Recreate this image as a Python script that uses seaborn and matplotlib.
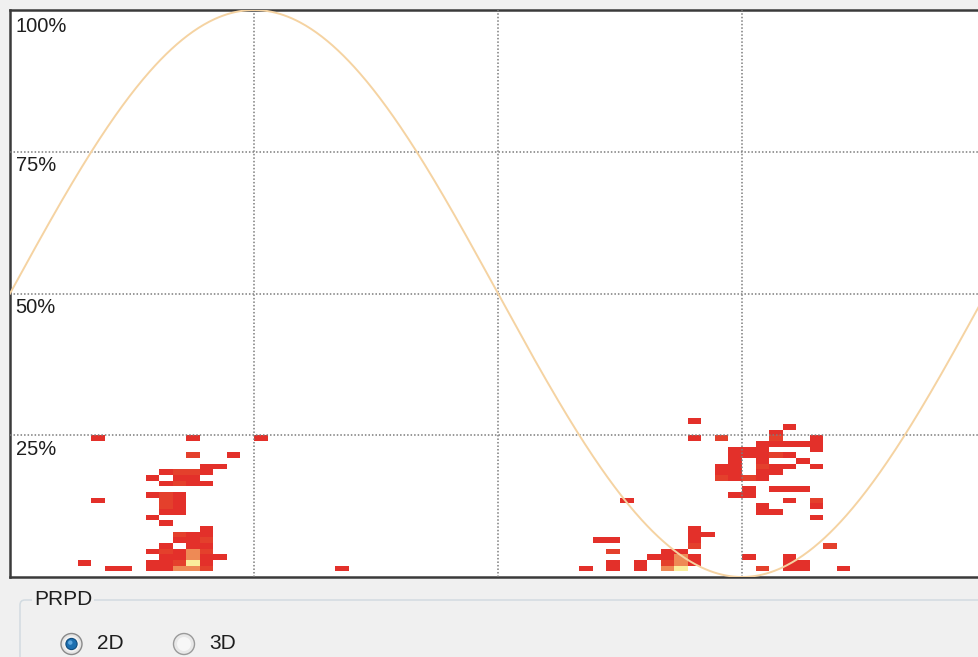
import numpy as np
import pandas as pd
import matplotlib
matplotlib.use("Agg")
import matplotlib.pyplot as plt
import seaborn as sns
from matplotlib.colors import ListedColormap
from matplotlib.patches import Circle, FancyBboxPatch

# ---------------- data (phase bin start in degrees, amplitude bin in %, pulse count) ----------------
phase_deg = [
    30, 65, 90,
    65, 80,
    70, 75,
    55, 60, 65, 70,
    50, 60, 65,
    55, 60, 65, 70,
    50, 55, 60,
    30, 55, 60,
    55, 60,
    55, 60,
    50,
    55,
    70,
    60, 65, 70,
    60, 65, 70,
    55, 65, 70,
    50, 55, 60, 65, 70,
    55, 60, 65, 70, 75,
    25, 50, 55, 60, 65, 70,
    35, 40, 50, 55, 60, 65, 70,
    120,
    # second half-cycle
    225,
    215, 220,
    220,
    210, 220, 220,
    230, 230,
    235,
    240, 240, 240, 240,
    245, 245, 245, 245,
    250, 250, 250, 250, 250, 250,
    255,
    250, 250, 260,
    280, 280, 285,
    295, 295, 295,
    275, 280, 285, 290,
    265, 270, 275,
    265, 270, 275, 280, 285,
    265, 275, 290,
    260, 265, 275, 280, 285, 295,
    260, 265, 275, 280,
    260, 265, 270, 275,
    270, 280, 285, 290,
    265, 270,
    285, 295,
    275, 295,
    275, 280,
    295,
    300,
    270, 285,
    285, 290, 285, 290,
    275, 305,
]
amplitude_pct = [
    24, 24, 24,
    21, 21,
    19, 19,
    18, 18, 18, 18,
    17, 17, 17,
    16, 16, 16, 16,
    14, 14, 14,
    13, 13, 13,
    12, 12,
    11, 11,
    10,
    9,
    8,
    7, 7, 7,
    6, 6, 6,
    5, 5, 5,
    4, 4, 4, 4, 4,
    3, 3, 3, 3, 3,
    2, 2, 2, 2, 2, 2,
    1, 1, 1, 1, 1, 1, 1,
    1,
    # second half-cycle
    13,
    6, 6,
    4,
    1, 1, 2,
    1, 2,
    3,
    1, 2, 3, 4,
    1, 2, 3, 4,
    2, 3, 5, 6, 7, 8,
    7,
    27, 24, 24,
    25, 24, 26,
    24, 23, 22,
    23, 23, 23, 23,
    22, 22, 22,
    21, 21, 21, 21, 21,
    20, 20, 20,
    19, 19, 19, 19, 19, 19,
    18, 18, 18, 18,
    17, 17, 17, 17,
    15, 15, 15, 15,
    14, 14,
    13, 13,
    12, 12,
    11, 11,
    10,
    5,
    3, 3,
    2, 2, 1, 1,
    1, 1,
]
pulse_count = [
    1, 1, 1,
    2, 1,
    1, 1,
    1, 2, 2, 1,
    1, 1, 1,
    1, 2, 1, 1,
    1, 2, 1,
    1, 2, 1,
    2, 1,
    1, 1,
    1,
    1,
    1,
    2, 1, 1,
    1, 1, 2,
    1, 1, 1,
    1, 2, 1, 3, 2,
    1, 1, 3, 1, 1,
    1, 1, 1, 2, 5, 1,
    1, 1, 1, 1, 3, 3, 2,
    1,
    # second half-cycle
    1,
    1, 1,
    2,
    1, 1, 1,
    1, 1,
    1,
    3, 2, 1, 1,
    5, 3, 3, 1,
    1, 1, 2, 1, 1, 1,
    1,
    1, 1, 2,
    1, 2, 1,
    1, 1, 1,
    1, 1, 1, 1,
    1, 1, 1,
    1, 1, 1, 2, 1,
    1, 1, 1,
    1, 1, 2, 1, 1, 1,
    1, 1, 1, 1,
    2, 1, 2, 1,
    1, 1, 1, 1,
    1, 1,
    1, 2,
    1, 1,
    1, 1,
    1,
    2,
    1, 1,
    1, 1, 1, 1,
    2, 1,
]
y_levels = [100, 75, 50, 25]
y_labels = ["100%", "75%", "50%", "25%"]
phase_bin_deg = 5
n_phase_bins = 72
n_amp_bins = 100

# ---------------- build grid ----------------
grid = pd.DataFrame(np.nan, index=range(n_amp_bins), columns=range(n_phase_bins))
for p, a, c in zip(phase_deg, amplitude_pct, pulse_count):
    grid.loc[a, p // phase_bin_deg] = c

plt.rcParams["font.family"] = ["Liberation Sans", "DejaVu Sans"]

W, H = 979, 657
fig = plt.figure(figsize=(W / 100, H / 100), dpi=100, facecolor="#F0F0F0")
ax = fig.add_axes([10 / W, (H - 577) / H, 976 / W, 567 / H])
ax.set_facecolor("white")

cmap = ListedColormap(["#E3302A", "#E4402C", "#EE8A55", "#F4BE74", "#FAEE9C"])
sns.heatmap(grid, ax=ax, cmap=cmap, vmin=0.5, vmax=5.5, cbar=False,
            xticklabels=False, yticklabels=False, linewidths=0)
ax.set_xlim(0, n_phase_bins)
ax.set_ylim(0, n_amp_bins)
ax.tick_params(length=0)
ax.set_xlabel("")
ax.set_ylabel("")

# grid lines (dotted)
for gx in [90, 180, 270]:
    ax.axvline(gx / phase_bin_deg, color="#7C7C7C", lw=1.1, ls=(0, (1, 1.3)), zorder=3)
for gy in [25, 50, 75]:
    ax.axhline(gy, color="#7C7C7C", lw=1.1, ls=(0, (1, 1.3)), zorder=3)

# reference sine
phase = np.linspace(0, 360, 721)
wave = 50 + 50 * np.sin(np.deg2rad(phase))
sns.lineplot(x=phase / phase_bin_deg, y=wave, ax=ax, color="#F5D3A2", lw=1.4, zorder=4)

# level labels inside plot
for lvl, lab in zip(y_levels, y_labels):
    off = 1.2 if lvl == 100 else 0.8
    ax.text(0.42, lvl - off, lab, ha="left", va="top", fontsize=14.5, color="#1E1E1E", zorder=5)

for s in ["left", "top", "bottom", "right"]:
    ax.spines[s].set_visible(True)
    ax.spines[s].set_color("#3A3A3A")
    ax.spines[s].set_linewidth(1.8)

# ---------------- bottom UI panel ----------------
ui = fig.add_axes([0, 0, 1, (H - 580) / H])
ui.set_xlim(0, W)
ui.set_ylim(H, 580)
ui.axis("off")
ui.patch.set_alpha(0)

box = FancyBboxPatch((20, 600), 1000, 120, boxstyle="round,pad=0,rounding_size=5",
                     ec="#D2DBE1", fc="none", lw=1.1)
ui.add_patch(box)
ui.text(34, 600, "PRPD", ha="left", va="center", fontsize=15, color="#1E1E1E",
        bbox=dict(fc="#F0F0F0", ec="none", pad=1.5))

# radio 2D (selected)
ui.add_patch(Circle((71.5, 644), 10.5, fc="#E4E4E4", ec="#8A8A8A", lw=1.0))
ui.add_patch(Circle((71.5, 644), 8.0, fc="#F2F2F2", ec="none"))
ui.add_patch(Circle((71.5, 644), 5.6, fc="#1C6FB0", ec="#0E4C7E", lw=0.8))
ui.add_patch(Circle((70.3, 642.6), 2.2, fc="#5FA9E0", ec="none"))
ui.text(97, 644, "2D", ha="left", va="center", fontsize=15, color="#1E1E1E")

# radio 3D
ui.add_patch(Circle((184, 644), 10.5, fc="#E8E8E8", ec="#9A9A9A", lw=1.0))
ui.add_patch(Circle((184, 644), 7.0, fc="#F7F7F7", ec="none"))
ui.text(209, 644, "3D", ha="left", va="center", fontsize=15, color="#1E1E1E")

fig.savefig("out.png", dpi=100, facecolor=fig.get_facecolor())
